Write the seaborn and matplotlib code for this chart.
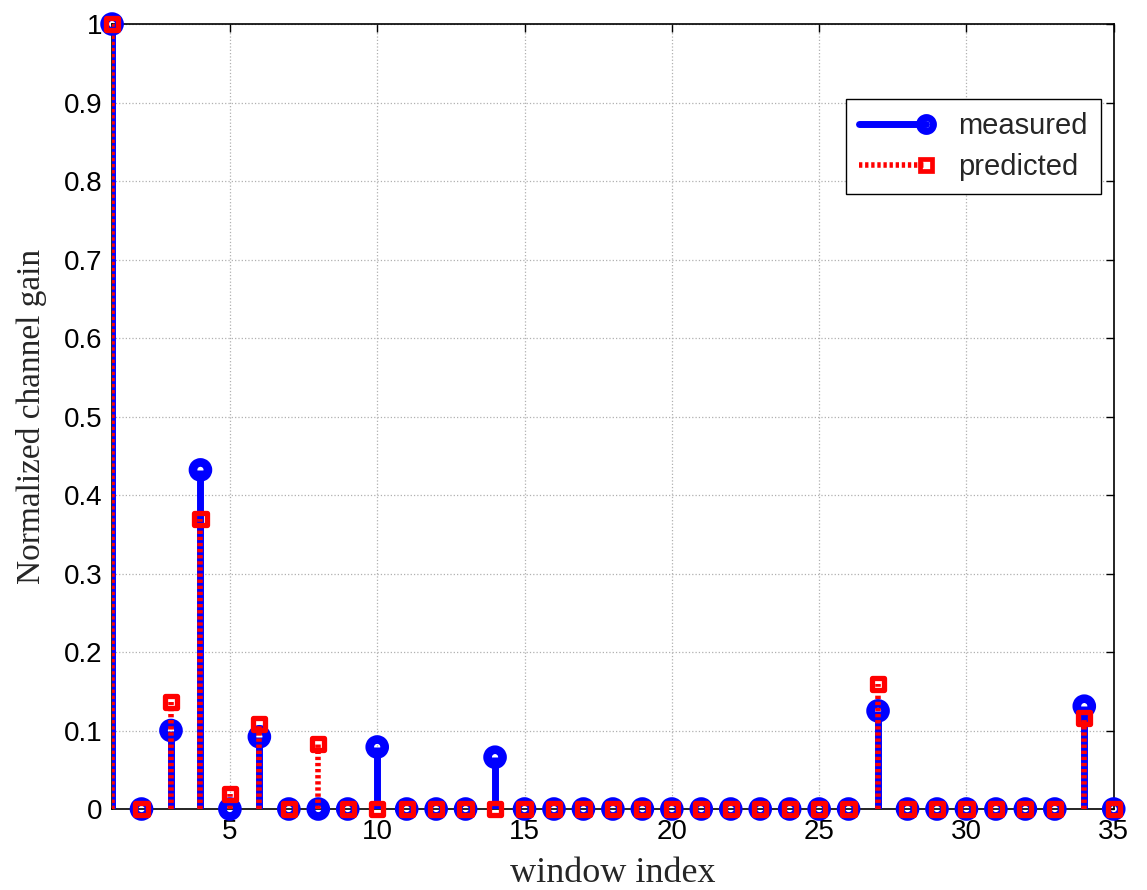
import numpy as np
import pandas as pd
import matplotlib
matplotlib.use("Agg")
import matplotlib.pyplot as plt
import seaborn as sns
from matplotlib.legend_handler import HandlerBase
from matplotlib.lines import Line2D

# Window indices and normalized channel gains
window_index = list(range(1, 36))
measured = [1.0, 0, 0.100, 0.432, 0, 0.092, 0, 0, 0, 0.079,
            0, 0, 0, 0.066, 0, 0, 0, 0, 0, 0,
            0, 0, 0, 0, 0, 0, 0.125, 0, 0, 0,
            0, 0, 0, 0.131, 0]
predicted = [1.0, 0, 0.136, 0.369, 0.019, 0.108, 0, 0.083, 0, 0,
             0, 0, 0, 0, 0, 0, 0, 0, 0, 0,
             0, 0, 0, 0, 0, 0, 0.159, 0, 0, 0,
             0, 0, 0, 0.116, 0]
x_ticks = [5, 10, 15, 20, 25, 30, 35]
y_ticks = [0, 0.1, 0.2, 0.3, 0.4, 0.5, 0.6, 0.7, 0.8, 0.9, 1]
y_tick_labels = ["0", "0.1", "0.2", "0.3", "0.4", "0.5", "0.6", "0.7", "0.8", "0.9", "1"]

df = pd.DataFrame({"window": window_index, "measured": measured, "predicted": predicted})

sns.set_style("white")
plt.rcParams["font.family"] = ["Liberation Sans", "DejaVu Sans"]

BLUE = "#0000ff"
RED = "#ff0000"
DOTS = (0, (0.6, 0.5))

fig = plt.figure(figsize=(11.47, 8.9), dpi=100)
ax = fig.add_axes([0.0977, 0.091, 0.8733, 0.882])

# measured: solid stems with ring markers
ax.vlines(df["window"], 0, df["measured"], color=BLUE, lw=5, zorder=3)
sns.scatterplot(data=df, x="window", y="measured", marker="o", s=10.8 ** 2,
                facecolor="none", edgecolor=BLUE, linewidth=6.2, ax=ax,
                zorder=4, clip_on=False, legend=False)

# predicted: dotted stems with square markers
ax.vlines(df["window"], 0, df["predicted"], color=RED, lw=4,
          linestyles=[DOTS], zorder=5)
sns.scatterplot(data=df, x="window", y="predicted", marker="s", s=8.8 ** 2,
                facecolor="none", edgecolor=RED, linewidth=3.8, ax=ax,
                zorder=6, clip_on=False, legend=False)

ax.set_xlim(1, 35)
ax.set_ylim(0, 1)
ax.set_xticks(x_ticks)
ax.set_yticks(y_ticks)
ax.set_yticklabels(y_tick_labels)
ax.tick_params(direction="in", length=6, width=1, labelsize=20, colors="black",
               top=True, right=True, pad=7)
ax.grid(True, color="#b0b0b0", linestyle=":", linewidth=0.9)
ax.set_axisbelow(True)
for sp in ax.spines.values():
    sp.set_color("black")
    sp.set_linewidth(1.2)
    sp.set_zorder(2)

ax.set_xlabel("window index", fontsize=26, family=["Liberation Serif"], labelpad=9)
ax.set_ylabel("Normalized channel gain", fontsize=24, family=["Liberation Serif"], labelpad=12)


class StemHandler(HandlerBase):
    def __init__(self, color, lw, ls, marker, ms, mew):
        super().__init__()
        self.color, self.lw, self.ls = color, lw, ls
        self.marker, self.ms, self.mew = marker, ms, mew

    def create_artists(self, legend, orig_handle, xdescent, ydescent,
                       width, height, fontsize, trans):
        y = height / 2 - ydescent
        xe = width - xdescent - 6
        line = Line2D([-xdescent, xe], [y, y], color=self.color,
                      lw=self.lw, linestyle=self.ls, transform=trans)
        mk = Line2D([xe], [y], marker=self.marker, ms=self.ms,
                    mew=self.mew, mfc="none", mec=self.color, linestyle="none",
                    transform=trans)
        return [line, mk]


h_meas = Line2D([], [], color=BLUE)
h_pred = Line2D([], [], color=RED)
leg = ax.legend([h_meas, h_pred], ["measured", "predicted"],
                handler_map={h_meas: StemHandler(BLUE, 5, "-", "o", 10, 5),
                             h_pred: StemHandler(RED, 4, DOTS, "s", 8, 3.4)},
                loc="upper right", bbox_to_anchor=(0.987, 0.905), fontsize=21,
                frameon=True, fancybox=False, edgecolor="black", framealpha=1,
                handlelength=2.6, handletextpad=0.8, borderpad=0.45,
                labelspacing=0.45, borderaxespad=0)
leg.get_frame().set_linewidth(1.0)

fig.savefig("out.png", dpi=100, facecolor="white")
